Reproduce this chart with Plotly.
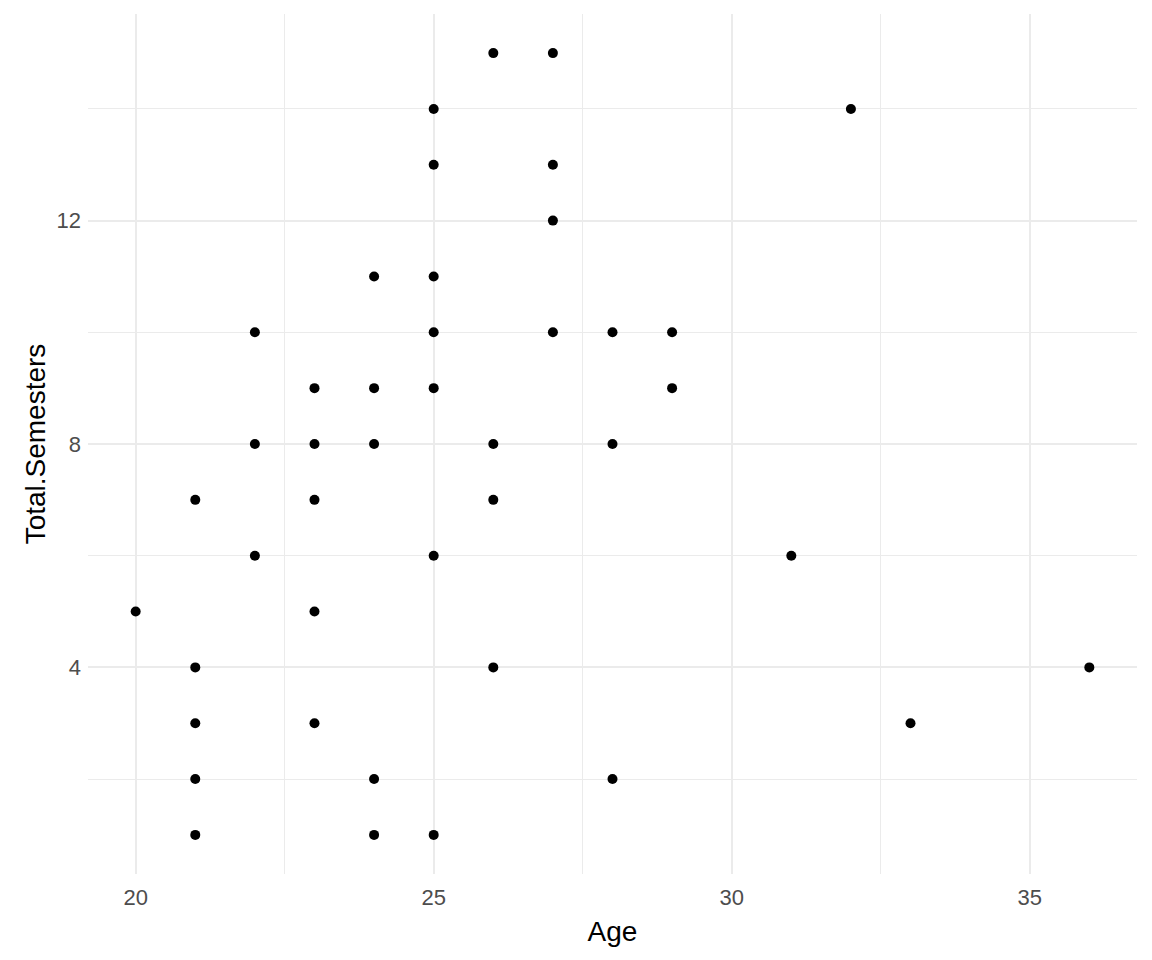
import plotly.graph_objects as go

age = [20,
       21, 21, 21, 21, 21,
       22, 22, 22,
       23, 23, 23, 23, 23,
       24, 24, 24, 24, 24,
       25, 25, 25, 25, 25, 25, 25,
       26, 26, 26, 26,
       27, 27, 27, 27,
       28, 28, 28,
       29, 29,
       31, 32, 33, 36]
semesters = [5,
             7, 4, 3, 2, 1,
             10, 8, 6,
             9, 8, 7, 5, 3,
             11, 9, 8, 2, 1,
             14, 13, 11, 10, 9, 6, 1,
             15, 8, 7, 4,
             15, 13, 12, 10,
             10, 8, 2,
             10, 9,
             6, 14, 3, 4]

x_ticks = [20, 25, 30, 35]
y_ticks = [4, 8, 12]

fig = go.Figure(go.Scatter(
    x=age, y=semesters, mode="markers",
    marker=dict(color="black", size=10, line=dict(width=0)),
))

font = "Liberation Sans, Arial, sans-serif"
grid = "#EBEBEB"
fig.update_layout(
    width=1152, height=960,
    margin=dict(l=80, r=23, t=6, b=94),
    plot_bgcolor="white", paper_bgcolor="white",
    showlegend=False,
    font=dict(family=font, color="#4D4D4D"),
    xaxis=dict(
        range=[19.2, 36.8], tickvals=x_ticks, ticks="", showline=False, zeroline=False,
        gridcolor=grid, gridwidth=1.6,
        minor=dict(tickvals=[22.5, 27.5, 32.5], showgrid=True, gridcolor=grid, gridwidth=0.8),
        tickfont=dict(size=22, color="#4D4D4D"), ticklabelstandoff=8,
        title=dict(text="Age", font=dict(size=28, color="black"), standoff=12),
    ),
    yaxis=dict(
        range=[0.3, 15.7], tickvals=y_ticks, ticks="", showline=False, zeroline=False,
        gridcolor=grid, gridwidth=1.6,
        minor=dict(tickvals=[2, 6, 10, 14], showgrid=True, gridcolor=grid, gridwidth=0.8),
        tickfont=dict(size=22, color="#4D4D4D"), ticklabelstandoff=6,
        title=dict(text="Total.Semesters", font=dict(size=28, color="black"), standoff=2),
    ),
)

fig.write_html("out.html")
